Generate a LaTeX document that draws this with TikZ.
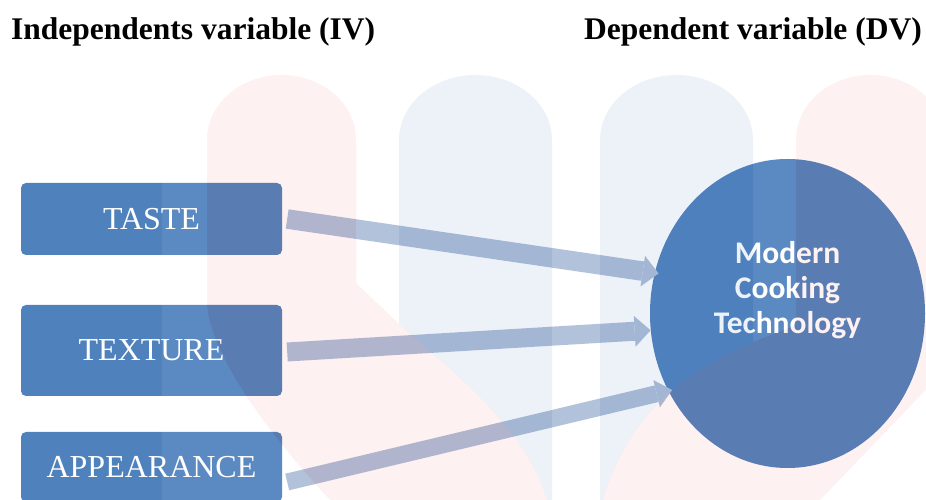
\documentclass[tikz,border=0pt]{standalone}
\usepackage{fontspec}
\setmainfont{Liberation Serif}
\newfontfamily\calibfont{Carlito}
\usetikzlibrary{arrows.meta,shapes.geometric}
\definecolor{boxblue}{RGB}{79,129,189}
\definecolor{arrowfill}{RGB}{174,190,217}
\definecolor{wmred}{RGB}{230,60,60}
\definecolor{wmblue}{RGB}{60,120,180}
\begin{document}
\begin{tikzpicture}[x=1pt,y=1pt,
  ivbox/.style={fill=boxblue, rounded corners=5pt, minimum width=261pt, inner sep=0pt,
    text=white, font=\fontsize{32}{36}\selectfont},
  headtitle/.style={font=\bfseries\fontsize{31.5}{36}\selectfont, inner sep=0pt, text=black},
  flow/.style={draw=arrowfill, line width=#1, line cap=butt},
  dvshape/.style={ellipse, fill=boxblue, minimum width=275pt, minimum height=309pt, inner sep=0pt},
  dvlabel/.style={text=white, font=\calibfont\bfseries\fontsize{31.5}{35}\selectfont, align=center, inner sep=0pt}]
\useasboundingbox (0,0) rectangle (926,500);
\clip (0,0) rectangle (926,500);
\fill[white] (0,0) rectangle (926,500);

% titles
\node[headtitle, anchor=base west] (ivt) at (11,460) {Independents variable (IV)};
\node[headtitle, anchor=base east] (dvt) at (922,460) {Dependent variable (DV)};

% independent variable boxes
\node[ivbox, minimum height=72pt] (taste) at (151.5,281) {TASTE};
\node[ivbox, minimum height=91pt] (texture) at (151.5,149.5) {TEXTURE};
\node[ivbox, minimum height=70pt] (appear) at (151.5,33) {APPEARANCE};

% dependent variable
\node[dvshape] (dv) at (787.5,186.5) {};
\node[dvlabel] (dvtext) at ([yshift=23pt]dv.center) {Modern\\Cooking\\Technology};

% arrows
\draw[flow=19.5pt, -{Triangle[length=16pt,width=31pt,line width=0pt]}, shorten >=-4pt]
  ([xshift=5pt]taste.east) -- (dv.163);
\draw[flow=19pt, -{Triangle[length=16pt,width=31pt,line width=0pt]}]
  ([xshift=5pt,yshift=-1.5pt]texture.east) -- (dv.187.8);
\draw[flow=17pt, -{Triangle[length=16pt,width=28pt,line width=0pt]}, shorten >=-4pt]
  ([xshift=5pt,yshift=-15pt]appear.east) -- (dv.213);

% faint watermark overlay
\fill[white, opacity=0.07, even odd rule] (162,0) rectangle (926,445)
  (330,0) .. controls (265,70) and (207,150) .. (207,200) -- (207,360)
     arc[start angle=180,end angle=0,x radius=74.5,y radius=65] -- (356,217) -- (399,176)
     .. controls (450,130) and (525,75) .. (547,0) -- cycle
  (547,0) .. controls (525,75) and (450,130) .. (399,176) -- (399,360)
     arc[start angle=180,end angle=0,x radius=76.5,y radius=65] -- (552,0) -- cycle
  (600,0) -- (600,360) arc[start angle=180,end angle=0,x radius=76.5,y radius=65]
     -- (753,158) .. controls (700,135) and (630,95) .. (603,0) -- cycle
  (603,0) .. controls (630,95) and (700,135) .. (753,158) -- (796,175) -- (796,360)
     arc[start angle=180,end angle=0,x radius=74.5,y radius=65] -- (945,130) -- (820,0) -- cycle;
\fill[wmred, opacity=0.07]
  (330,0) .. controls (265,70) and (207,150) .. (207,200) -- (207,360)
     arc[start angle=180,end angle=0,x radius=74.5,y radius=65] -- (356,217) -- (399,176)
     .. controls (450,130) and (525,75) .. (547,0) -- cycle
  (603,0) .. controls (630,95) and (700,135) .. (753,158) -- (796,175) -- (796,360)
     arc[start angle=180,end angle=0,x radius=74.5,y radius=65] -- (945,130) -- (820,0) -- cycle;
\fill[wmblue, opacity=0.09]
  (547,0) .. controls (525,75) and (450,130) .. (399,176) -- (399,360)
     arc[start angle=180,end angle=0,x radius=76.5,y radius=65] -- (552,0) -- cycle
  (600,0) -- (600,360) arc[start angle=180,end angle=0,x radius=76.5,y radius=65]
     -- (753,158) .. controls (700,135) and (630,95) .. (603,0) -- cycle;
\end{tikzpicture}
\end{document}
